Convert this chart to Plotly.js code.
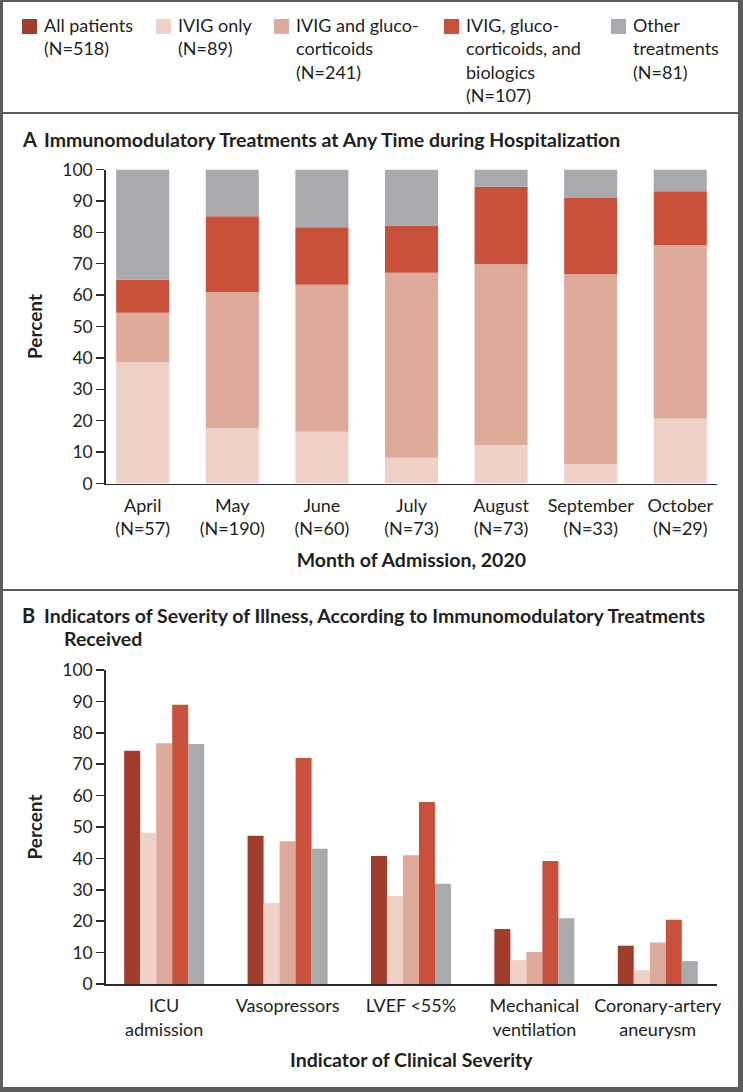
<!DOCTYPE html>
<html>
<head>
<meta charset="utf-8">
<script src="https://cdn.plot.ly/plotly-3.0.1.min.js"></script>
<style>html,body{margin:0;padding:0;background:#fff;}#chart{width:743px;height:1092px;}</style>
</head>
<body>
<div id="chart"></div>
<script>
// ---- Data ----
var seriesNames = ['All patients', 'IVIG only', 'IVIG and gluco-\ncorticoids', 'IVIG, gluco-\ncorticoids, and\nbiologics', 'Other\ntreatments'];
var seriesN = [518, 89, 241, 107, 81];
var seriesColors = ['#A23C2B', '#EFD1C7', '#DEAA99', '#C9503A', '#A8AAAE'];

var months = ['April', 'May', 'June', 'July', 'August', 'September', 'October'];
var monthN = [57, 190, 60, 73, 73, 33, 29];
var ivigOnlyByMonth = [38.6, 17.6, 16.5, 8.2, 12.3, 6.1, 20.7];
var ivigGlucoByMonth = [15.8, 43.3, 46.8, 58.9, 57.5, 60.6, 55.2];
var ivigGlucoBioByMonth = [10.5, 24.2, 18.3, 15.1, 24.7, 24.2, 17.2];
var otherByMonth = [35.1, 14.9, 18.4, 17.8, 5.5, 9.1, 6.9];

var indicators = ['ICU\nadmission', 'Vasopressors', 'LVEF &lt;55%', 'Mechanical\nventilation', 'Coronary-artery\naneurysm'];
var allPatients = [74.3, 47.2, 40.8, 17.5, 12.2];
var ivigOnly = [48.2, 25.8, 28.0, 7.6, 4.4];
var ivigGluco = [76.7, 45.5, 41.0, 10.2, 13.2];
var ivigGlucoBio = [88.9, 72.0, 58.0, 39.2, 20.5];
var otherTreatments = [76.4, 43.1, 31.9, 20.9, 7.3];

var yTicks = [0, 10, 20, 30, 40, 50, 60, 70, 80, 90, 100];

// ---- Geometry helpers (pixels -> paper) ----
var W = 743, H = 1092;
function px(x) { return x / W; }
function py(y) { return 1 - y / H; }
var FONT = 'Lato, "Open Sans", sans-serif';
var TXT = '#231F20';
var AX = '#2b2b2b';
function br(s) { return s.split('\n').join('<br>'); }

// ---- Traces ----
var traces = [];
var monthLabels = months.map(function (m, i) { return m + '<br>(N=' + monthN[i] + ')'; });
var stackSeries = [ivigOnlyByMonth, ivigGlucoByMonth, ivigGlucoBioByMonth, otherByMonth];
var base = months.map(function () { return 0; });
stackSeries.forEach(function (vals, k) {
  traces.push({
    type: 'bar', x: monthLabels, y: vals, base: base.slice(),
    width: 0.592, name: br(seriesNames[k + 1]),
    marker: { color: seriesColors[k + 1], line: { width: 0 } },
    xaxis: 'x', yaxis: 'y', showlegend: false, hoverinfo: 'y+name'
  });
  base = base.map(function (b, i) { return b + vals[i]; });
});

var indLabels = indicators.map(br);
var groupSeries = [allPatients, ivigOnly, ivigGluco, ivigGlucoBio, otherTreatments];
var bw = 0.1297;
groupSeries.forEach(function (vals, k) {
  traces.push({
    type: 'bar', x: indLabels, y: vals,
    width: bw, offset: -2.5 * bw + k * bw, name: br(seriesNames[k]),
    marker: { color: seriesColors[k], line: { width: 0 } },
    xaxis: 'x2', yaxis: 'y2', showlegend: false, hoverinfo: 'y+name'
  });
});

// ---- Axes ----
function yAxis(domain, anchor) {
  return {
    domain: domain, anchor: anchor, range: [0, 100], tickvals: yTicks,
    ticks: 'outside', ticklen: 8, tickwidth: 1.5, tickcolor: AX,
    showline: true, linewidth: 1.5, linecolor: AX, showgrid: false, zeroline: false,
    tickfont: { family: FONT, size: 17.5, color: TXT }, fixedrange: true,
    title: { text: '<b>Percent</b>', font: { family: FONT, size: 19, color: TXT }, standoff: 14 },
    automargin: false
  };
}
function xAxis(domain, anchor, range, title) {
  return {
    domain: domain, anchor: anchor, type: 'category', range: range,
    showline: true, linewidth: 1.5, linecolor: AX, ticks: '', showgrid: false, zeroline: false,
    tickfont: { family: FONT, size: 18, color: TXT }, fixedrange: true, ticklabelstandoff: 5,
    title: { text: '<b>' + title + '</b>', font: { family: FONT, size: 19.5, color: TXT }, standoff: 15 },
    automargin: false
  };
}

// ---- Legend (drawn as annotations + swatches) ----
var legendX = [22, 156, 274, 444, 611];
var annotations = [];
var shapes = [];
seriesNames.forEach(function (n, k) {
  shapes.push({ type: 'rect', xref: 'paper', yref: 'paper',
    x0: px(legendX[k]), x1: px(legendX[k] + 15), y0: py(19), y1: py(34),
    fillcolor: seriesColors[k], line: { width: 0 } });
  annotations.push({ xref: 'paper', yref: 'paper', x: px(legendX[k] + 20), y: py(12),
    xanchor: 'left', yanchor: 'top', align: 'left', showarrow: false,
    text: br(n) + '<br>(N=' + seriesN[k] + ')',
    font: { family: FONT, size: 18, color: TXT } });
});

// Panel titles
function ann(x, y, text, size) {
  annotations.push({ xref: 'paper', yref: 'paper', x: px(x), y: py(y), xanchor: 'left', yanchor: 'middle',
    showarrow: false, text: text, font: { family: FONT, size: size, color: TXT } });
}
ann(20, 139, '<b>A</b>', 20);
ann(42, 139, '<b>Immunomodulatory Treatments at Any Time during Hospitalization</b>', 19.5);
ann(20, 615, '<b>B</b>', 20);
ann(42, 615, '<b>Indicators of Severity of Illness, According to Immunomodulatory Treatments</b>', 19.5);
ann(62, 638, '<b>Received</b>', 19.5);

// Frame lines
var FR = '#5c5c5c';
function hline(y, w) { shapes.push({ type: 'line', xref: 'paper', yref: 'paper', x0: 0, x1: 1, y0: py(y), y1: py(y), line: { color: FR, width: w } }); }
function vline(x, w) { shapes.push({ type: 'line', xref: 'paper', yref: 'paper', x0: px(x), x1: px(x), y0: 0, y1: 1, line: { color: FR, width: w } }); }
hline(1, 2); hline(113, 2); hline(590, 2); hline(1089.5, 5);
vline(1.5, 3); vline(740.5, 5);

var layout = {
  width: W, height: H, margin: { l: 0, r: 0, t: 0, b: 0 },
  paper_bgcolor: '#fff', plot_bgcolor: '#fff',
  barmode: 'overlay', showlegend: false,
  font: { family: FONT, color: TXT },
  xaxis: xAxis([px(105.7), px(717)], 'y', [-0.413, 6.41], 'Month of Admission, 2020'),
  yaxis: yAxis([py(483.5), py(169.5)], 'x'),
  xaxis2: xAxis([px(105.7), px(717)], 'y2', [-0.474, 4.48], 'Indicator of Clinical Severity'),
  yaxis2: yAxis([py(984), py(670)], 'x2'),
  annotations: annotations, shapes: shapes
};

Plotly.newPlot('chart', traces, layout, { displayModeBar: false, staticPlot: true });
</script>
</body>
</html>
